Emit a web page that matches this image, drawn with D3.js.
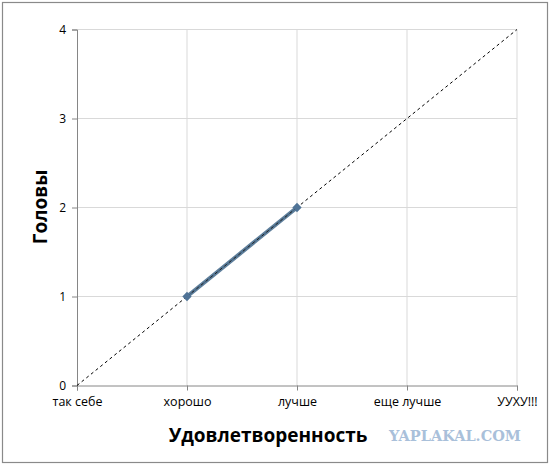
<!DOCTYPE html>
<html><head><meta charset="utf-8">
<script src="https://cdn.jsdelivr.net/npm/d3@7"></script>
<style>body{margin:0;background:#fff}svg{display:block}</style>
</head><body>
<script>
const categories = ["так себе", "хорошо", "лучше", "еще лучше", "УУХУ!!!"];
const seriesCats = ["хорошо", "лучше"];
const seriesValues = [1, 2];
const trendCats = ["так себе", "УУХУ!!!"];
const trendValues = [0, 4];
const yTicks = [0, 1, 2, 3, 4];
const yTitle = "Головы";
const xTitle = "Удовлетворенность";
const watermark = "YAPLAKAL.COM";

const W = 549, H = 464;
const svg = d3.select("body").append("svg").attr("width", W).attr("height", H);
svg.append("rect").attr("x", 2.5).attr("y", 2.5).attr("width", W - 4).attr("height", H - 4)
  .attr("fill", "#fff").attr("stroke", "#8a8a8a").attr("stroke-width", 1.2);

const x = d3.scalePoint().domain(categories).range([77, 517]);
const y = d3.scaleLinear().domain([0, 4]).range([385.5, 29.5]);
const font = "'Open Sans', 'Noto Sans', sans-serif";

// gridlines
svg.append("g").selectAll("line").data(yTicks.filter(d => d > 0)).join("line")
  .attr("x1", 77).attr("x2", 517).attr("y1", d => y(d)).attr("y2", d => y(d))
  .attr("stroke", "#d9d9d9").attr("stroke-width", 1);
svg.append("g").selectAll("line").data(categories.slice(1)).join("line")
  .attr("x1", d => x(d)).attr("x2", d => x(d)).attr("y1", y(0)).attr("y2", y(4))
  .attr("stroke", "#d9d9d9").attr("stroke-width", 1);

// axes
const yAxis = svg.append("g").attr("transform", "translate(77,0)")
  .call(d3.axisLeft(y).tickValues(yTicks).tickSize(5).tickPadding(6).tickFormat(d3.format("d")));
const xAxis = svg.append("g").attr("transform", `translate(0,${y(0)})`)
  .call(d3.axisBottom(x).tickSize(5).tickPadding(7));
[yAxis, xAxis].forEach(a => {
  a.select(".domain").attr("stroke", "#868686");
  a.selectAll(".tick line").attr("stroke", "#868686");
  a.selectAll("text").attr("fill", "#000").style("font-family", font).style("font-size", "12.5px");
});
yAxis.selectAll("text").style("font-size", "12px");

// trendline
svg.append("path")
  .datum(trendCats.map((c, i) => [x(c), y(trendValues[i])]))
  .attr("d", d3.line())
  .attr("fill", "none").attr("stroke", "#000").attr("stroke-width", 1).attr("stroke-dasharray", "3,3");

// series
const pts = seriesCats.map((c, i) => [x(c), y(seriesValues[i])]);
svg.append("path").datum(pts).attr("d", d3.line())
  .attr("fill", "none").attr("stroke", "#4a6f8f").attr("stroke-width", 4).attr("opacity", 0.9);
svg.append("path").datum(pts).attr("d", d3.line())
  .attr("fill", "none").attr("stroke", "#1a1a1a").attr("stroke-width", 1).attr("stroke-dasharray", "3,3");
svg.append("g").selectAll("path").data(pts).join("path")
  .attr("transform", d => `translate(${d[0]},${d[1]})`)
  .attr("d", d3.symbol(d3.symbolDiamond2, 55))
  .attr("fill", "#4f7396");

// titles
svg.append("text").attr("transform", `translate(47,207) rotate(-90)`)
  .attr("text-anchor", "middle").style("font-family", font).style("font-weight", "bold")
  .style("font-size", "19px").text(yTitle);
svg.append("text").attr("x", 268).attr("y", 442)
  .attr("text-anchor", "middle").style("font-family", font).style("font-weight", "bold")
  .style("font-size", "19px").text(xTitle);
svg.append("text").attr("x", 455).attr("y", 441)
  .attr("text-anchor", "middle").style("font-family", "'DejaVu Serif', serif").style("font-weight", "bold")
  .style("font-size", "14.5px").attr("fill", "#a9c0da").text(watermark);
</script>
</body></html>
